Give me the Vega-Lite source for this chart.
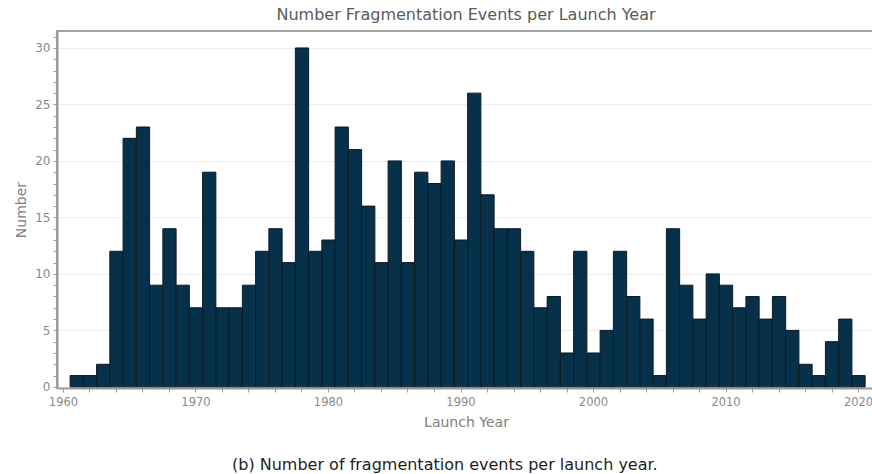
{
  "$schema": "https://vega.github.io/schema/vega-lite/v6.json",
  "padding": {"left": 13, "top": 6, "right": 0, "bottom": 1},
  "background": "white",
  "config": {
    "view": {"stroke": "#a3a3a3", "strokeWidth": 2},
    "font": "DejaVu Sans",
    "concat": {"spacing": 0}
  },
  "title": {
    "text": "(b) Number of fragmentation events per launch year.",
    "orient": "bottom",
    "anchor": "middle",
    "font": "DejaVu Sans",
    "fontSize": 16,
    "fontWeight": "normal",
    "color": "#1e1e1e",
    "offset": 26
  },
  "vconcat": [
    {
      "width": 818,
      "height": 357,
      "title": {
        "text": "Number Fragmentation Events per Launch Year",
        "fontSize": 16,
        "fontWeight": "normal",
        "color": "#5a5a5a",
        "anchor": "middle",
        "offset": 8
      },
      "data": {
        "values": [
          {"year": 1961, "count": 1}, {"year": 1962, "count": 1}, {"year": 1963, "count": 2},
          {"year": 1964, "count": 12}, {"year": 1965, "count": 22}, {"year": 1966, "count": 23},
          {"year": 1967, "count": 9}, {"year": 1968, "count": 14}, {"year": 1969, "count": 9},
          {"year": 1970, "count": 7}, {"year": 1971, "count": 19}, {"year": 1972, "count": 7},
          {"year": 1973, "count": 7}, {"year": 1974, "count": 9}, {"year": 1975, "count": 12},
          {"year": 1976, "count": 14}, {"year": 1977, "count": 11}, {"year": 1978, "count": 30},
          {"year": 1979, "count": 12}, {"year": 1980, "count": 13}, {"year": 1981, "count": 23},
          {"year": 1982, "count": 21}, {"year": 1983, "count": 16}, {"year": 1984, "count": 11},
          {"year": 1985, "count": 20}, {"year": 1986, "count": 11}, {"year": 1987, "count": 19},
          {"year": 1988, "count": 18}, {"year": 1989, "count": 20}, {"year": 1990, "count": 13},
          {"year": 1991, "count": 26}, {"year": 1992, "count": 17}, {"year": 1993, "count": 14},
          {"year": 1994, "count": 14}, {"year": 1995, "count": 12}, {"year": 1996, "count": 7},
          {"year": 1997, "count": 8}, {"year": 1998, "count": 3}, {"year": 1999, "count": 12},
          {"year": 2000, "count": 3}, {"year": 2001, "count": 5}, {"year": 2002, "count": 12},
          {"year": 2003, "count": 8}, {"year": 2004, "count": 6}, {"year": 2005, "count": 1},
          {"year": 2006, "count": 14}, {"year": 2007, "count": 9}, {"year": 2008, "count": 6},
          {"year": 2009, "count": 10}, {"year": 2010, "count": 9}, {"year": 2011, "count": 7},
          {"year": 2012, "count": 8}, {"year": 2013, "count": 6}, {"year": 2014, "count": 8},
          {"year": 2015, "count": 5}, {"year": 2016, "count": 2}, {"year": 2017, "count": 1},
          {"year": 2018, "count": 4}, {"year": 2019, "count": 6}, {"year": 2020, "count": 1}
        ]
      },
      "transform": [
        {"bin": {"step": 1, "anchor": 0.5, "extent": [1959.5, 2021.5]}, "field": "year", "as": ["y0", "y1"]}
      ],
      "mark": {"type": "bar", "fill": "#07304a", "stroke": "#0d1b24", "strokeWidth": 1, "binSpacing": 0},
      "encoding": {
        "x": {
          "field": "y0",
          "type": "quantitative",
          "bin": "binned",
          "scale": {"domain": [1959.55, 2021.28], "nice": false, "zero": false},
          "axis": {
            "title": "Launch Year",
            "values": [1960,1962,1964,1966,1968,1970,1972,1974,1976,1978,1980,1982,1984,1986,1988,1990,1992,1994,1996,1998,2000,2002,2004,2006,2008,2010,2012,2014,2016,2018,2020],
            "format": "d",
            "labelExpr": "datum.value % 10 === 0 ? datum.label : ''",
            "labelFontSize": 11.5,
            "labelColor": "#8a8a8a",
            "labelPadding": 4,
            "titleFontSize": 14,
            "titleFontWeight": "normal",
            "titleColor": "#808080",
            "titlePadding": 8,
            "domainColor": "#9a9a9a",
            "domainWidth": 2,
            "tickColor": "#9a9a9a",
            "tickSize": 4,
            "gridColor": "#ececec",
            "gridOpacity": {"condition": {"test": "datum.value % 10 === 0", "value": 1}, "value": 0}
          }
        },
        "x2": {"field": "y1"},
        "y": {
          "field": "count",
          "type": "quantitative",
          "scale": {"domain": [-0.1, 31.5], "nice": false, "zero": false},
          "axis": {
            "title": "Number",
            "values": [0,1,2,3,4,5,6,7,8,9,10,11,12,13,14,15,16,17,18,19,20,21,22,23,24,25,26,27,28,29,30,31],
            "labelExpr": "datum.value % 5 === 0 ? datum.label : ''",
            "labelFontSize": 12,
            "labelColor": "#8a8a8a",
            "labelPadding": 3,
            "titleFontSize": 14,
            "titleFontWeight": "normal",
            "titleColor": "#808080",
            "titlePadding": 6,
            "domainColor": "#9a9a9a",
            "domainWidth": 2,
            "tickColor": "#9a9a9a",
            "tickSize": 4,
            "gridColor": "#ececec",
            "gridOpacity": {"condition": {"test": "datum.value % 5 === 0", "value": 1}, "value": 0}
          }
        }
      }
    }
  ]
}
